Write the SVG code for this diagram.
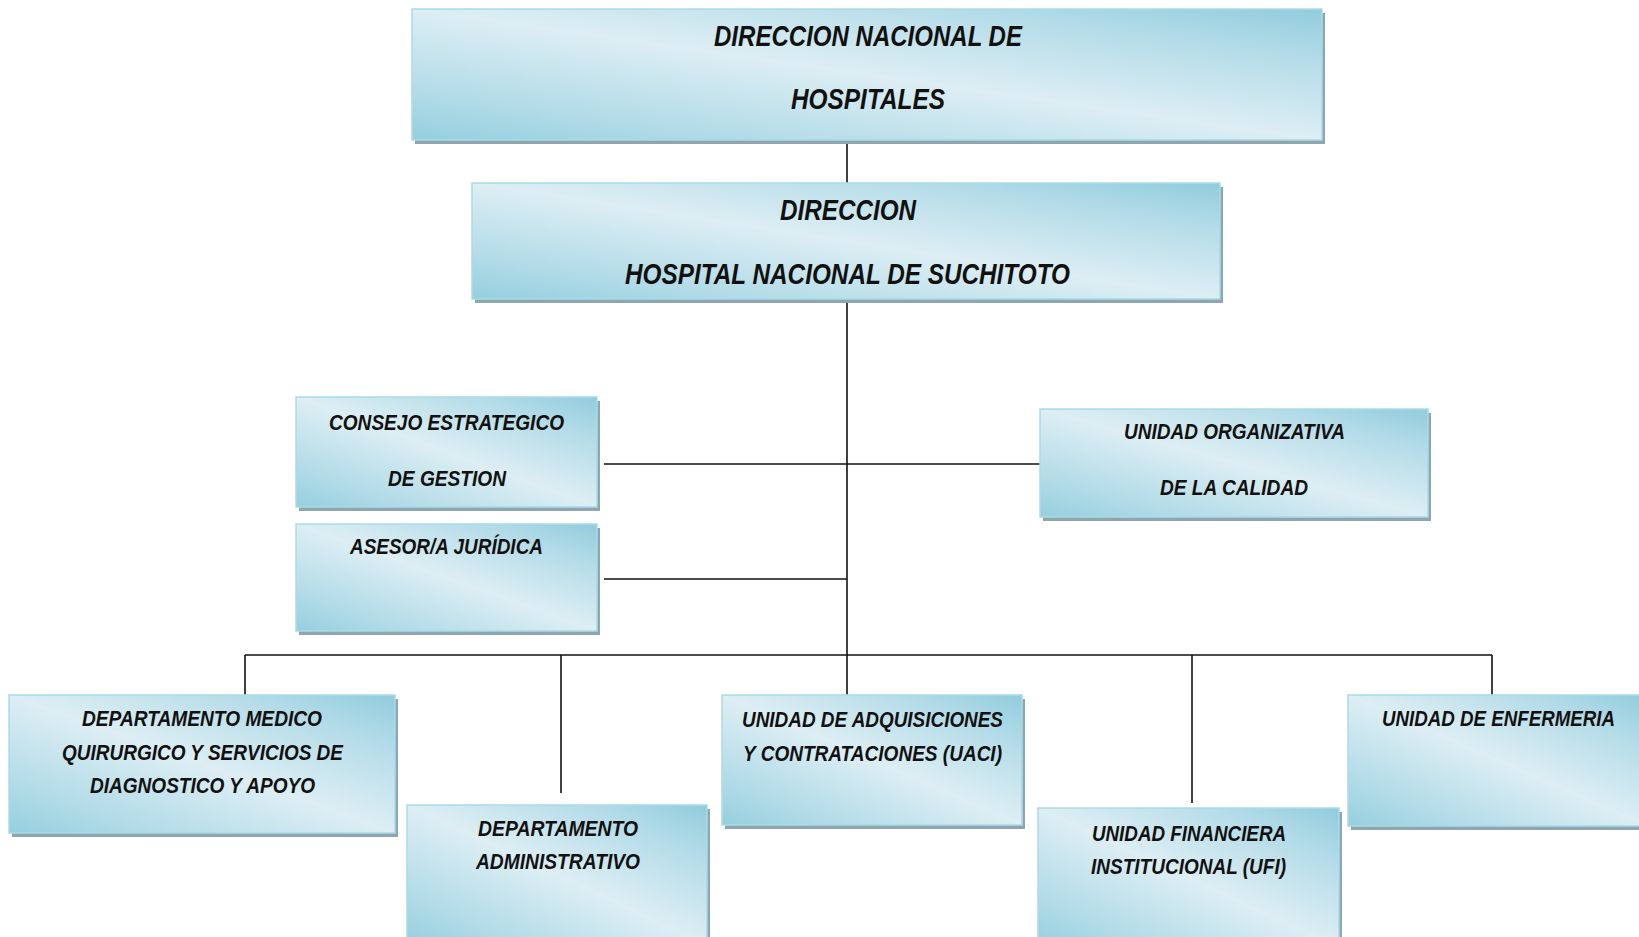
<svg xmlns="http://www.w3.org/2000/svg" width="1639" height="937" viewBox="0 0 1639 937">
<defs>
<linearGradient id="g" x1="0" y1="1" x2="1" y2="0">
<stop offset="0" stop-color="#95cfdf"/>
<stop offset="0.18" stop-color="#b1dbe7"/>
<stop offset="0.5" stop-color="#ddeef4"/>
<stop offset="0.8" stop-color="#b4dce8"/>
<stop offset="1" stop-color="#91ccdd"/>
</linearGradient>
</defs>
<style>
.sh{fill:#8fa6ae}
.bx{fill:url(#g);stroke:#a9dbe8;stroke-width:1.5}
.t{font-family:"Liberation Sans Narrow","Liberation Sans",Arial,sans-serif;font-weight:bold;font-style:italic;fill:#111;text-anchor:middle}
.b{font-size:30px}
.s{font-size:22.5px}
.c{fill:none;stroke:#111;stroke-width:1.6}
</style>
<rect width="1639" height="937" fill="#fff"/>
<g id="connectors">
<path class="c" d="M847 140V183"/>
<path class="c" d="M847 300V695"/>
<path class="c" d="M604 464H1040"/>
<path class="c" d="M604 579H847"/>
<path class="c" d="M245 655H1492"/>
<path class="c" d="M245 655V695"/>
<path class="c" d="M561 655V793"/>
<path class="c" d="M1192 655V803"/>
<path class="c" d="M1492 655V695"/>
</g>
<g id="n-dnh">
<rect class="sh" x="415" y="13" width="910" height="131"/>
<rect class="bx" x="412" y="9" width="910" height="131"/>
<text class="t b" x="868" y="46" textLength="308" lengthAdjust="spacingAndGlyphs">DIRECCION NACIONAL DE</text>
<text class="t b" x="868" y="109" textLength="154" lengthAdjust="spacingAndGlyphs">HOSPITALES</text>
</g>
<g id="n-dir">
<rect class="sh" x="475" y="187" width="748" height="116"/>
<rect class="bx" x="472" y="183" width="748" height="116"/>
<text class="t b" x="848" y="220" textLength="136" lengthAdjust="spacingAndGlyphs">DIRECCION</text>
<text class="t b" x="847.5" y="284" textLength="445" lengthAdjust="spacingAndGlyphs">HOSPITAL NACIONAL DE SUCHITOTO</text>
</g>
<g id="n-consejo">
<rect class="sh" x="299" y="401" width="301" height="110"/>
<rect class="bx" x="296" y="397" width="301" height="110"/>
<text class="t s" x="446.5" y="430" textLength="235" lengthAdjust="spacingAndGlyphs">CONSEJO ESTRATEGICO</text>
<text class="t s" x="447" y="486" textLength="118" lengthAdjust="spacingAndGlyphs">DE GESTION</text>
</g>
<g id="n-asesor">
<rect class="sh" x="299" y="528" width="301" height="107"/>
<rect class="bx" x="296" y="524" width="301" height="107"/>
<text class="t s" x="446.5" y="554" textLength="193" lengthAdjust="spacingAndGlyphs">ASESOR/A JURÍDICA</text>
</g>
<g id="n-calidad">
<rect class="sh" x="1043" y="413" width="388" height="108"/>
<rect class="bx" x="1040" y="409" width="388" height="108"/>
<text class="t s" x="1234.5" y="439" textLength="221" lengthAdjust="spacingAndGlyphs">UNIDAD ORGANIZATIVA</text>
<text class="t s" x="1234" y="495" textLength="148" lengthAdjust="spacingAndGlyphs">DE LA CALIDAD</text>
</g>
<g id="n-medico">
<rect class="sh" x="12" y="699" width="386" height="138"/>
<rect class="bx" x="9" y="695" width="386" height="138"/>
<text class="t s" x="202" y="726" textLength="240" lengthAdjust="spacingAndGlyphs">DEPARTAMENTO MEDICO</text>
<text class="t s" x="202.5" y="760" textLength="281" lengthAdjust="spacingAndGlyphs">QUIRURGICO Y SERVICIOS DE</text>
<text class="t s" x="202.5" y="793" textLength="225" lengthAdjust="spacingAndGlyphs">DIAGNOSTICO Y APOYO</text>
</g>
<g id="n-admin">
<rect class="sh" x="410" y="809" width="300" height="140"/>
<rect class="bx" x="407" y="805" width="300" height="140"/>
<text class="t s" x="558" y="836" textLength="160" lengthAdjust="spacingAndGlyphs">DEPARTAMENTO</text>
<text class="t s" x="558" y="869" textLength="164" lengthAdjust="spacingAndGlyphs">ADMINISTRATIVO</text>
</g>
<g id="n-uaci">
<rect class="sh" x="725" y="699" width="300" height="130"/>
<rect class="bx" x="722" y="695" width="300" height="130"/>
<text class="t s" x="872.5" y="727" textLength="261" lengthAdjust="spacingAndGlyphs">UNIDAD DE ADQUISICIONES</text>
<text class="t s" x="872.5" y="761" textLength="259" lengthAdjust="spacingAndGlyphs">Y CONTRATACIONES (UACI)</text>
</g>
<g id="n-ufi">
<rect class="sh" x="1041" y="812" width="301" height="140"/>
<rect class="bx" x="1038" y="808" width="301" height="140"/>
<text class="t s" x="1189" y="841" textLength="194" lengthAdjust="spacingAndGlyphs">UNIDAD FINANCIERA</text>
<text class="t s" x="1188.5" y="874" textLength="195" lengthAdjust="spacingAndGlyphs">INSTITUCIONAL (UFI)</text>
</g>
<g id="n-enfermeria">
<rect class="sh" x="1351" y="699" width="300" height="131"/>
<rect class="bx" x="1348" y="695" width="300" height="131"/>
<text class="t s" x="1498.5" y="726" textLength="233" lengthAdjust="spacingAndGlyphs">UNIDAD DE ENFERMERIA</text>
</g>
</svg>
